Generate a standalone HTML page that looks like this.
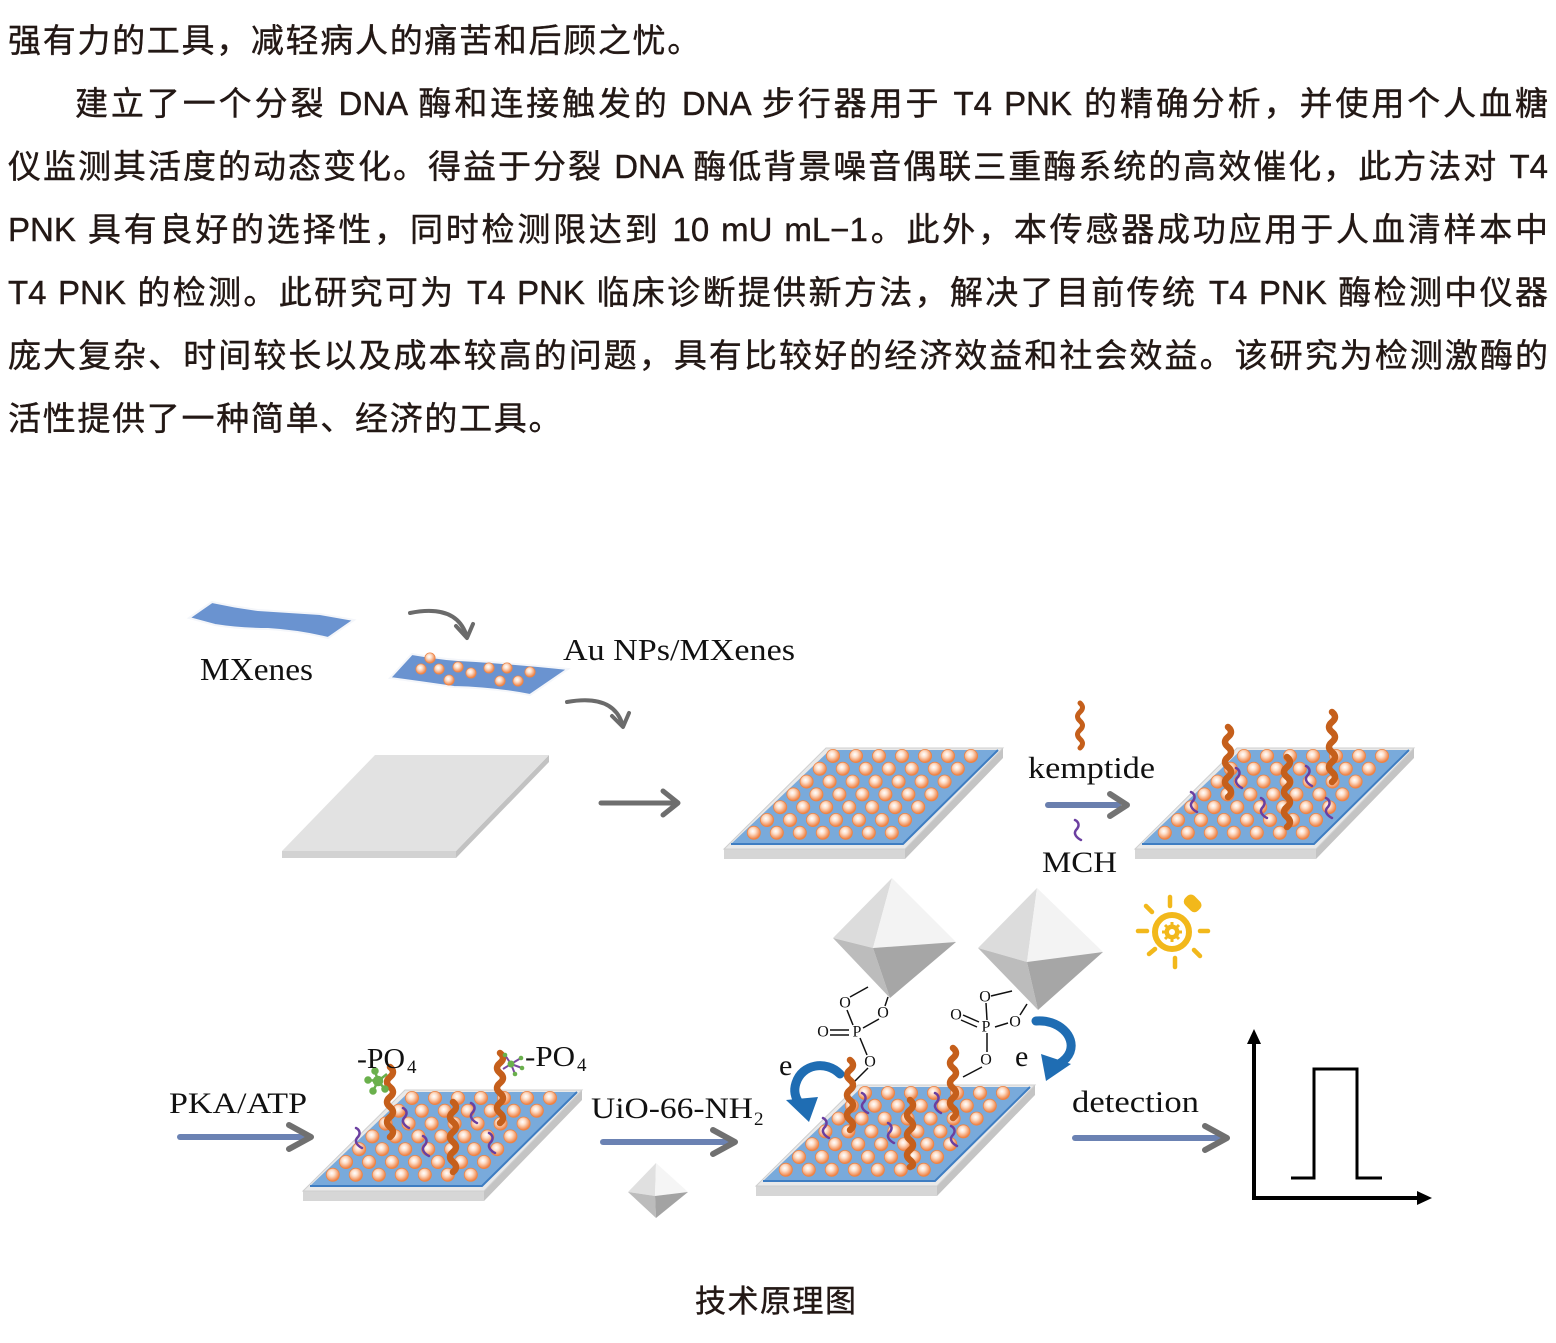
<!DOCTYPE html>
<html><head><meta charset="utf-8">
<style>
html,body{margin:0;padding:0;background:#fff;}
body{width:1556px;height:1343px;position:relative;overflow:hidden;}
.ln{position:absolute;left:8px;width:1540px;height:63px;line-height:63px;font-family:"Liberation Sans","Noto Sans CJK SC",sans-serif;font-size:33px;color:#231815;white-space:normal;-webkit-text-stroke:0.4px #231815;}
.j{text-align:justify;text-align-last:justify;}
.nj{letter-spacing:1.7px;}
.cap{position:absolute;left:695px;top:1282px;line-height:40px;font-family:"Liberation Sans","Noto Sans CJK SC",sans-serif;font-size:31px;letter-spacing:1.5px;color:#231815;white-space:nowrap;-webkit-text-stroke:0.4px #231815;}
svg text{font-family:"Liberation Serif",serif;fill:#111;}
</style></head><body>
<div class="ln nj" style="top:9px">强有力的工具，减轻病人的痛苦和后顾之忧。</div>
<div class="ln j" style="top:72px;text-indent:67px">建立了一个分裂 DNA 酶和连接触发的 DNA 步行器用于 T4 PNK 的精确分析，并使用个人血糖</div>
<div class="ln j" style="top:135px">仪监测其活度的动态变化。得益于分裂 DNA 酶低背景噪音偶联三重酶系统的高效催化，此方法对 T4</div>
<div class="ln j" style="top:198px">PNK 具有良好的选择性，同时检测限达到 10 mU mL−1。此外，本传感器成功应用于人血清样本中</div>
<div class="ln j" style="top:261px">T4 PNK 的检测。此研究可为 T4 PNK 临床诊断提供新方法，解决了目前传统 T4 PNK 酶检测中仪器</div>
<div class="ln j" style="top:324px">庞大复杂、时间较长以及成本较高的问题，具有比较好的经济效益和社会效益。该研究为检测激酶的</div>
<div class="ln nj" style="top:387px">活性提供了一种简单、经济的工具。</div>

<svg width="1556" height="1343" viewBox="0 0 1556 1343" style="position:absolute;left:0;top:0">
<defs>
<radialGradient id="dg" cx="0.42" cy="0.38" r="0.62">
<stop offset="0" stop-color="#ffffff"/><stop offset="0.35" stop-color="#fde0cc"/><stop offset="1" stop-color="#ef7b3a"/>
</radialGradient>
<g id="dots" fill="url(#dg)" stroke="#ec8445" stroke-width="0.8">
<circle cx="7" cy="8" r="6.6"/><circle cx="30" cy="8" r="6.6"/><circle cx="53" cy="8" r="6.6"/><circle cx="76" cy="8" r="6.6"/><circle cx="99" cy="8" r="6.6"/><circle cx="122" cy="8" r="6.6"/><circle cx="145" cy="8" r="6.6"/>
<circle cx="-6.2" cy="20.8" r="6.6"/><circle cx="16.8" cy="20.8" r="6.6"/><circle cx="39.8" cy="20.8" r="6.6"/><circle cx="62.8" cy="20.8" r="6.6"/><circle cx="85.8" cy="20.8" r="6.6"/><circle cx="108.8" cy="20.8" r="6.6"/><circle cx="131.8" cy="20.8" r="6.6"/>
<circle cx="-19.4" cy="33.6" r="6.6"/><circle cx="3.6" cy="33.6" r="6.6"/><circle cx="26.6" cy="33.6" r="6.6"/><circle cx="49.6" cy="33.6" r="6.6"/><circle cx="72.6" cy="33.6" r="6.6"/><circle cx="95.6" cy="33.6" r="6.6"/><circle cx="118.6" cy="33.6" r="6.6"/>
<circle cx="-32.6" cy="46.4" r="6.6"/><circle cx="-9.6" cy="46.4" r="6.6"/><circle cx="13.4" cy="46.4" r="6.6"/><circle cx="36.4" cy="46.4" r="6.6"/><circle cx="59.4" cy="46.4" r="6.6"/><circle cx="82.4" cy="46.4" r="6.6"/><circle cx="105.4" cy="46.4" r="6.6"/>
<circle cx="-45.8" cy="59.2" r="6.6"/><circle cx="-22.8" cy="59.2" r="6.6"/><circle cx="0.2" cy="59.2" r="6.6"/><circle cx="23.2" cy="59.2" r="6.6"/><circle cx="46.2" cy="59.2" r="6.6"/><circle cx="69.2" cy="59.2" r="6.6"/><circle cx="92.2" cy="59.2" r="6.6"/>
<circle cx="-59" cy="72" r="6.6"/><circle cx="-36" cy="72" r="6.6"/><circle cx="-13" cy="72" r="6.6"/><circle cx="10" cy="72" r="6.6"/><circle cx="33" cy="72" r="6.6"/><circle cx="56" cy="72" r="6.6"/><circle cx="79" cy="72" r="6.6"/>
<circle cx="-72.2" cy="84.8" r="6.6"/><circle cx="-49.2" cy="84.8" r="6.6"/><circle cx="-26.2" cy="84.8" r="6.6"/><circle cx="-3.2" cy="84.8" r="6.6"/><circle cx="19.8" cy="84.8" r="6.6"/><circle cx="42.8" cy="84.8" r="6.6"/><circle cx="65.8" cy="84.8" r="6.6"/>
</g>
<g id="plate">
<polygon points="-102,101 79,101 79,111 -102,111" fill="#d6d6d6"/>
<polygon points="177,0 177,10 79,111 79,101" fill="#c4c4c4"/>
<polygon points="0,0 177,0 79,101 -102,101" fill="#e9e9e9" stroke="#cfcfcf" stroke-width="1"/>
<polygon points="4,2 172,2 77,96 -95,96" fill="#79aadb"/>
<polyline points="-95,96 77,96 172,2" fill="none" stroke="#3e7dc2" stroke-width="2"/>
<use href="#dots"/>
</g>
</defs>

<!-- MXenes sheet -->
<path d="M189 618 L212 602 Q235 607 258 610 Q290 612 320 614 L354 620 L328 638 Q300 631 268 629 Q240 629 215 625 Z" fill="#6a93d0" stroke="#f4f6fa" stroke-width="2"/>
<text x="200" y="680" font-size="32" textLength="113" lengthAdjust="spacingAndGlyphs">MXenes</text>

<!-- curved arrow 1 -->
<path d="M410 613 Q455 604 466 634" fill="none" stroke="#6b6b6b" stroke-width="4" stroke-linecap="round"/>
<polyline points="456,626 467,638 473,624" fill="none" stroke="#6b6b6b" stroke-width="4" stroke-linecap="round" stroke-linejoin="round"/>

<!-- Au NPs sheet -->
<path d="M390 678 L412 654 Q445 660 476 661 Q520 664 568 669 L530 695 Q495 688 454 687 Q420 682 390 678 Z" fill="#6a93d0" stroke="#f4f6fa" stroke-width="2"/>
<g fill="url(#dg)" stroke="#ec8445" stroke-width="0.7">
<circle cx="430" cy="658" r="5.2"/><circle cx="421" cy="669" r="5.2"/><circle cx="439" cy="669" r="5.2"/><circle cx="458" cy="667" r="5.2"/><circle cx="471" cy="673" r="5.2"/><circle cx="489" cy="668" r="5.2"/><circle cx="507" cy="668" r="5.2"/><circle cx="530" cy="672" r="5.2"/><circle cx="449" cy="680" r="5.2"/><circle cx="500" cy="681" r="5.2"/><circle cx="518" cy="681" r="5.2"/>
</g>
<text x="563" y="660" font-size="31" textLength="232" lengthAdjust="spacingAndGlyphs">Au NPs/MXenes</text>

<!-- curved arrow 2 -->
<path d="M567 702 Q612 694 622 723" fill="none" stroke="#6b6b6b" stroke-width="4" stroke-linecap="round"/>
<polyline points="612,716 623,727 629,713" fill="none" stroke="#6b6b6b" stroke-width="4" stroke-linecap="round" stroke-linejoin="round"/>

<!-- gray plate -->
<polygon points="282,851 456,851 456,858 282,858" fill="#d2d2d2"/>
<polygon points="549,755 549,762 456,858 456,851" fill="#c2c2c2"/>
<polygon points="375,755 549,755 456,851 282,851" fill="#e2e2e2"/>

<!-- gray straight arrow -->
<line x1="601" y1="803" x2="676" y2="803" stroke="#6e6e6e" stroke-width="5" stroke-linecap="round"/>
<polyline points="663,791 678,803 663,815" fill="none" stroke="#6e6e6e" stroke-width="5" stroke-linecap="round" stroke-linejoin="round"/>

<!-- plate 2 -->
<use href="#plate" transform="translate(826,748)"/>

<!-- kemptide / MCH -->
<path d="M1080 703 q5 4.5 0 9 t0 9 t0 9 t0 9 t0 9" fill="none" stroke="#c55f1b" stroke-width="5" stroke-linecap="round"/>
<text x="1028" y="778" font-size="31" textLength="127" lengthAdjust="spacingAndGlyphs">kemptide</text>
<line x1="1048" y1="805" x2="1118" y2="805" stroke="#6a7fae" stroke-width="6" stroke-linecap="round"/>
<polyline points="1110,794 1127,805 1110,816" fill="none" stroke="#737373" stroke-width="6" stroke-linecap="round" stroke-linejoin="round"/>
<path d="M1075 820 c4 2 5 6 1 10 c-3 4 1 8 5 10" fill="none" stroke="#6b3fa0" stroke-width="2.5" stroke-linecap="round"/>
<text x="1042" y="872" font-size="30" textLength="75" lengthAdjust="spacingAndGlyphs">MCH</text>

<!-- plate 3 -->
<use href="#plate" transform="translate(1237,748)"/>
<g fill="none" stroke="#6b3fa0" stroke-width="2.5" stroke-linecap="round">
<path d="M1191 792 c4 2 5 6 1 10 c-3 4 1 8 5 10"/>
<path d="M1236 768 c4 2 5 6 1 10 c-3 4 1 8 5 10"/>
<path d="M1261 798 c4 2 5 6 1 10 c-3 4 1 8 5 10"/>
<path d="M1306 766 c4 2 5 6 1 10 c-3 4 1 8 5 10"/>
<path d="M1326 798 c4 2 5 6 1 10 c-3 4 1 8 5 10"/>
</g>
<g fill="none" stroke="#c55f1b" stroke-width="6.5" stroke-linecap="round">
<path d="M1228 727 q6 5 0 10 t0 10 t0 10 t0 10 t0 10 t0 10 t0 10"/>
<path d="M1332 712 q6 5 0 10 t0 10 t0 10 t0 10 t0 10 t0 10 t0 10"/>
<path d="M1287 757 q6 5 0 10 t0 10 t0 10 t0 10 t0 10 t0 10 t0 10"/>
</g>

<!-- octahedra -->
<polygon points="892,878 833,938 873,948" fill="#dcdcdc"/>
<polygon points="892,878 873,948 956,942" fill="#f3f3f3"/>
<polygon points="833,938 873,948 890,998" fill="#bcbcbc"/>
<polygon points="873,948 956,942 890,998" fill="#a6a6a6"/>
<polygon points="1037,888 978,948 1027,962" fill="#dcdcdc"/>
<polygon points="1037,888 1027,962 1103,952" fill="#f3f3f3"/>
<polygon points="978,948 1027,962 1038,1010" fill="#bcbcbc"/>
<polygon points="1027,962 1103,952 1038,1010" fill="#a6a6a6"/>
<polygon points="656,1163 628,1192 655,1196" fill="#e0e0e0"/>
<polygon points="656,1163 655,1196 688,1192" fill="#f5f5f5"/>
<polygon points="628,1192 655,1196 656,1218" fill="#bcbcbc"/>
<polygon points="655,1196 688,1192 656,1218" fill="#a3a3a3"/>

<!-- phosphate groups -->
<g stroke="#111" stroke-width="1.5" fill="none">
<line x1="850" y1="997" x2="868" y2="987"/>
<line x1="885" y1="1006" x2="888" y2="997"/>
<line x1="847" y1="1010" x2="853" y2="1025"/>
<line x1="879" y1="1019" x2="863" y2="1028"/>
<line x1="830" y1="1030" x2="849" y2="1030"/>
<line x1="830" y1="1035" x2="849" y2="1035"/>
<line x1="860" y1="1038" x2="867" y2="1055"/>
<line x1="868" y1="1068" x2="853" y2="1083"/>
<line x1="991" y1="996" x2="1012" y2="991"/>
<line x1="1020" y1="1015" x2="1027" y2="1004"/>
<line x1="986" y1="1003" x2="987" y2="1020"/>
<line x1="963" y1="1015" x2="979" y2="1022"/>
<line x1="961" y1="1020" x2="977" y2="1027"/>
<line x1="995" y1="1027" x2="1008" y2="1023"/>
<line x1="987" y1="1033" x2="987" y2="1052"/>
<line x1="982" y1="1067" x2="963" y2="1077"/>
</g>
<g font-size="16" text-anchor="middle" dominant-baseline="central">
<text x="845" y="1003">O</text><text x="883" y="1013">O</text><text x="823" y="1032">O</text><text x="857" y="1032">P</text><text x="870" y="1062">O</text>
<text x="985" y="997">O</text><text x="1015" y="1022">O</text><text x="956" y="1015">O</text><text x="986" y="1027">P</text><text x="986" y="1060">O</text>
</g>

<!-- lightbulb -->
<g stroke="#f2b81b" fill="none" stroke-linecap="round">
<circle cx="1172" cy="932" r="17" stroke-width="6"/>
<g stroke-width="4.5">
<line x1="1138" y1="931" x2="1147" y2="931"/>
<line x1="1149" y1="954" x2="1155" y2="949"/>
<line x1="1175" y1="958" x2="1175" y2="967"/>
<line x1="1194" y1="950" x2="1200" y2="956"/>
<line x1="1200" y1="931" x2="1208" y2="931"/>
<line x1="1170" y1="897" x2="1170" y2="906"/>
<line x1="1146" y1="906" x2="1152" y2="912"/>
</g>
</g>
<rect x="1184" y="897" width="18" height="13" rx="5" fill="#f2b81b" transform="rotate(45 1193 903)"/>
<circle cx="1172" cy="932" r="7.5" fill="#f2b81b"/>
<g stroke="#f2b81b" stroke-width="3"><line x1="1172" y1="922" x2="1172" y2="942"/><line x1="1162" y1="932" x2="1182" y2="932"/><line x1="1165" y1="925" x2="1179" y2="939"/><line x1="1179" y1="925" x2="1165" y2="939"/></g>
<circle cx="1172" cy="932" r="3" fill="#fff"/>

<!-- bottom row -->
<text x="169" y="1113" font-size="30" textLength="138" lengthAdjust="spacingAndGlyphs">PKA/ATP</text>
<line x1="180" y1="1137" x2="302" y2="1137" stroke="#6b82b3" stroke-width="6" stroke-linecap="round"/>
<polyline points="289,1125 311,1137 289,1149" fill="none" stroke="#707070" stroke-width="6" stroke-linecap="round" stroke-linejoin="round"/>

<use href="#plate" transform="translate(405,1090)"/>
<g fill="none" stroke="#6b3fa0" stroke-width="2.5" stroke-linecap="round">
<path d="M356 1128 c4 2 5 6 1 10 c-3 4 1 8 5 10"/>
<path d="M403 1108 c4 2 5 6 1 10 c-3 4 1 8 5 10"/>
<path d="M423 1136 c4 2 5 6 1 10 c-3 4 1 8 5 10"/>
<path d="M471 1103 c4 2 5 6 1 10 c-3 4 1 8 5 10"/>
<path d="M489 1133 c4 2 5 6 1 10 c-3 4 1 8 5 10"/>
</g>
<g fill="none" stroke="#c55f1b" stroke-width="6.5" stroke-linecap="round">
<path d="M390 1067 q6 5 0 10 t0 10 t0 10 t0 10 t0 10 t0 10 t0 10"/>
<path d="M453 1102 q6 5 0 10 t0 10 t0 10 t0 10 t0 10 t0 10 t0 10"/>
<path d="M500 1053 q6 5 0 10 t0 10 t0 10 t0 10 t0 10 t0 10 t0 10"/>
</g>
<!-- green molecule -->
<g stroke="#6ab04c" stroke-width="2.5" fill="#6ab04c">
<line x1="378" y1="1081" x2="368" y2="1080"/><line x1="378" y1="1081" x2="375" y2="1071"/><line x1="378" y1="1081" x2="387" y2="1074"/><line x1="378" y1="1081" x2="373" y2="1091"/><line x1="378" y1="1081" x2="385" y2="1089"/>
<circle cx="378" cy="1081" r="4"/><circle cx="368" cy="1080" r="2.5"/><circle cx="375" cy="1071" r="2.5"/><circle cx="373" cy="1091" r="2.5"/><circle cx="385" cy="1089" r="2.5"/>
</g>
<!-- purple molecule -->
<g stroke="#7b4aa0" stroke-width="2">
<line x1="511" y1="1064" x2="505" y2="1055"/><line x1="511" y1="1064" x2="521" y2="1058"/><line x1="511" y1="1064" x2="522" y2="1068"/><line x1="511" y1="1064" x2="515" y2="1074"/><line x1="511" y1="1064" x2="503" y2="1069"/>
</g>
<g fill="#6ab04c"><circle cx="511" cy="1064" r="3.5"/><circle cx="505" cy="1055" r="2.3"/><circle cx="521" cy="1058" r="2.3"/><circle cx="522" cy="1068" r="2.3"/><circle cx="515" cy="1074" r="2.3"/></g>

<text x="357" y="1068" font-size="29" textLength="48" lengthAdjust="spacingAndGlyphs">-PO</text>
<text x="407" y="1073" font-size="19">4</text>
<text x="525" y="1066" font-size="29" textLength="50" lengthAdjust="spacingAndGlyphs">-PO</text>
<text x="577" y="1071" font-size="19">4</text>

<text x="591" y="1118" font-size="30" textLength="162" lengthAdjust="spacingAndGlyphs">UiO-66-NH</text>
<text x="754" y="1125" font-size="19">2</text>
<line x1="603" y1="1142" x2="726" y2="1142" stroke="#6b82b3" stroke-width="6" stroke-linecap="round"/>
<polyline points="713,1130 735,1142 713,1154" fill="none" stroke="#707070" stroke-width="6" stroke-linecap="round" stroke-linejoin="round"/>

<!-- plate 5 -->
<use href="#plate" transform="translate(858,1085)"/>
<g fill="none" stroke="#6b3fa0" stroke-width="2.5" stroke-linecap="round">
<path d="M823 1118 c4 2 5 6 1 10 c-3 4 1 8 5 10"/>
<path d="M862 1093 c4 2 5 6 1 10 c-3 4 1 8 5 10"/>
<path d="M888 1123 c4 2 5 6 1 10 c-3 4 1 8 5 10"/>
<path d="M935 1093 c4 2 5 6 1 10 c-3 4 1 8 5 10"/>
<path d="M951 1126 c4 2 5 6 1 10 c-3 4 1 8 5 10"/>
</g>
<g fill="none" stroke="#c55f1b" stroke-width="6.5" stroke-linecap="round">
<path d="M850 1060 q6 5 0 10 t0 10 t0 10 t0 10 t0 10 t0 10 t0 10"/>
<path d="M910 1100 q6 5 0 10 t0 10 t0 10 t0 10 t0 10 t0 10 t0 7"/>
<path d="M953 1048 q6 5 0 10 t0 10 t0 10 t0 10 t0 10 t0 10 t0 10"/>
</g>

<!-- blue curved arrows -->
<path d="M840 1074 C826 1060 802 1064 796 1083 C793 1092 796 1099 800 1104" fill="none" stroke="#1f6db3" stroke-width="9" stroke-linecap="round"/>
<polygon points="786,1100 818,1097 809,1122" fill="#1f6db3"/>
<path d="M1036 1021 C1058 1019 1076 1036 1070 1052 C1068 1057 1064 1061 1059 1064" fill="none" stroke="#1f6db3" stroke-width="9" stroke-linecap="round"/>
<polygon points="1041,1054 1071,1064 1046,1081" fill="#1f6db3"/>
<text x="779" y="1075" font-size="30">e</text>
<text x="1015" y="1066" font-size="30">e</text>

<text x="1072" y="1112" font-size="31" textLength="127" lengthAdjust="spacingAndGlyphs">detection</text>
<line x1="1075" y1="1138" x2="1218" y2="1138" stroke="#6b82b3" stroke-width="6" stroke-linecap="round"/>
<polyline points="1205,1126 1227,1138 1205,1150" fill="none" stroke="#707070" stroke-width="6" stroke-linecap="round" stroke-linejoin="round"/>

<!-- graph -->
<line x1="1254" y1="1198" x2="1254" y2="1040" stroke="#000" stroke-width="4"/>
<polygon points="1247,1044 1261,1044 1254,1029" fill="#000"/>
<line x1="1252" y1="1198" x2="1420" y2="1198" stroke="#000" stroke-width="4"/>
<polygon points="1417,1191 1417,1205 1432,1198" fill="#000"/>
<polyline points="1291,1178 1314,1178 1314,1069 1357,1069 1357,1178 1382,1178" fill="none" stroke="#000" stroke-width="3"/>
</svg>

<div class="cap">技术原理图</div>
</body></html>
